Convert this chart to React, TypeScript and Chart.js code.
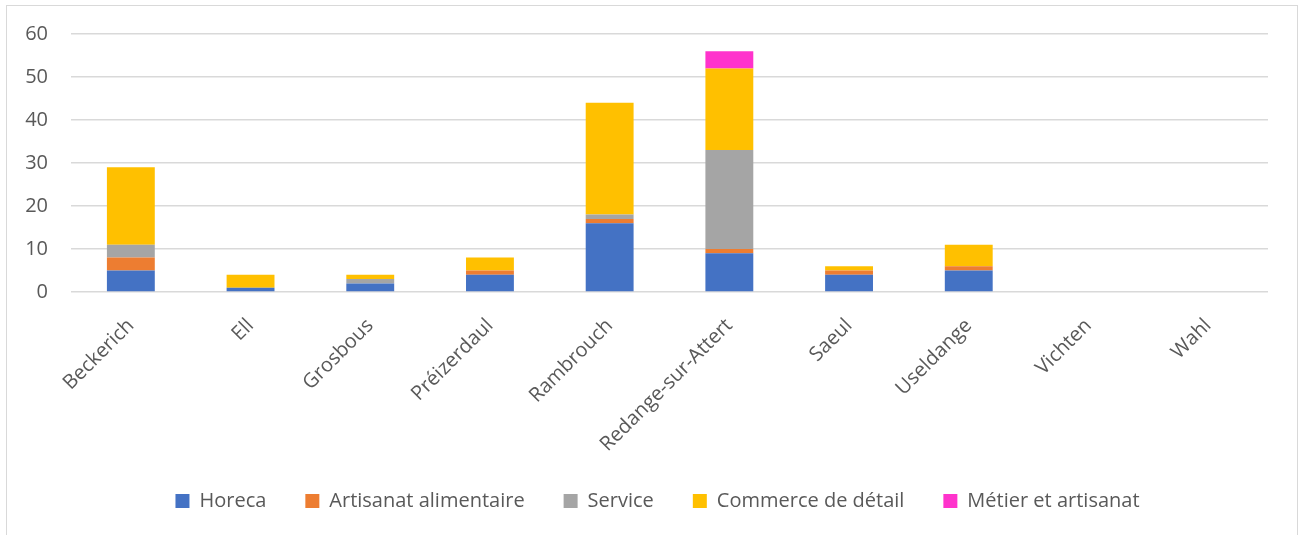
import React, { useEffect, useRef } from "react";
import { Chart, registerables } from "chart.js";

Chart.register(...registerables);

const categories = ["Beckerich", "Ell", "Grosbous", "Préizerdaul", "Rambrouch", "Redange-sur-Attert", "Saeul", "Useldange", "Vichten", "Wahl"];
const horeca = [5, 1, 2, 4, 16, 9, 4, 5, 0, 0];
const artisanatAlimentaire = [3, 0, 0, 1, 1, 1, 1, 1, 0, 0];
const service = [3, 0, 1, 0, 1, 23, 0, 0, 0, 0];
const commerceDetail = [18, 3, 1, 3, 26, 19, 1, 5, 0, 0];
const metierArtisanat = [0, 0, 0, 0, 0, 4, 0, 0, 0, 0];

const FONT = "'Open Sans', sans-serif";
const TEXT = "#595959";

const legendShift = {
  id: "legendShift",
  afterLayout(chart: any) {
    if (chart.legend) {
      chart.legend.left += 20;
      chart.legend.right += 20;
    }
  },
};

export default function App() {
  const ref = useRef<HTMLCanvasElement | null>(null);
  useEffect(() => {
    if (!ref.current) return;
    const mk = (label: string, data: number[], color: string) => ({
      label,
      data,
      backgroundColor: color,
      borderWidth: 0,
      categoryPercentage: 1,
      barPercentage: 0.4,
    });
    const chart = new Chart(ref.current, {
      type: "bar",
      data: {
        labels: categories,
        datasets: [
          mk("Horeca", horeca, "#4472C4"),
          mk("Artisanat alimentaire", artisanatAlimentaire, "#ED7D31"),
          mk("Service", service, "#A5A5A5"),
          mk("Commerce de détail", commerceDetail, "#FFC000"),
          mk("Métier et artisanat", metierArtisanat, "#FF33CC"),
        ],
      },
      plugins: [legendShift],
      options: {
        animation: false,
        responsive: false,
        layout: { padding: { left: 0, right: 29, top: 28, bottom: 14 } },
        plugins: {
          tooltip: { enabled: false },
          legend: {
            position: "bottom",
            labels: {
              boxWidth: 14,
              boxHeight: 14,
              padding: 39,
              color: TEXT,
              font: { family: FONT, size: 20 },
            },
          },
        },
        scales: {
          x: {
            stacked: true,
            grid: { display: false },
            border: { display: false },
            ticks: {
              color: TEXT,
              font: { family: FONT, size: 20 },
              minRotation: 45,
              maxRotation: 45,
              padding: 14,
            },
            afterFit: (s: any) => { s.height = 160; },
          },
          y: {
            stacked: true,
            min: 0,
            max: 60,
            grid: { color: "#d9d9d9", lineWidth: 1.5, drawTicks: false },
            border: { display: false },
            ticks: {
              stepSize: 10,
              color: TEXT,
              font: { family: FONT, size: 20 },
              padding: 23,
            },
            afterFit: (s: any) => {
              s.width = 64;
              s.paddingTop = 0;
              s.paddingBottom = 0;
            },
          },
        },
      },
    });
    return () => chart.destroy();
  }, []);
  return (
    <div
      style={{
        position: "absolute",
        left: 6,
        top: 5,
        width: 1292,
        height: 540,
        border: "1px solid #d9d9d9",
        boxSizing: "border-box",
        background: "#fff",
      }}
    >
      <canvas ref={ref} width={1290} height={529} style={{ display: "block" }} />
    </div>
  );
}
